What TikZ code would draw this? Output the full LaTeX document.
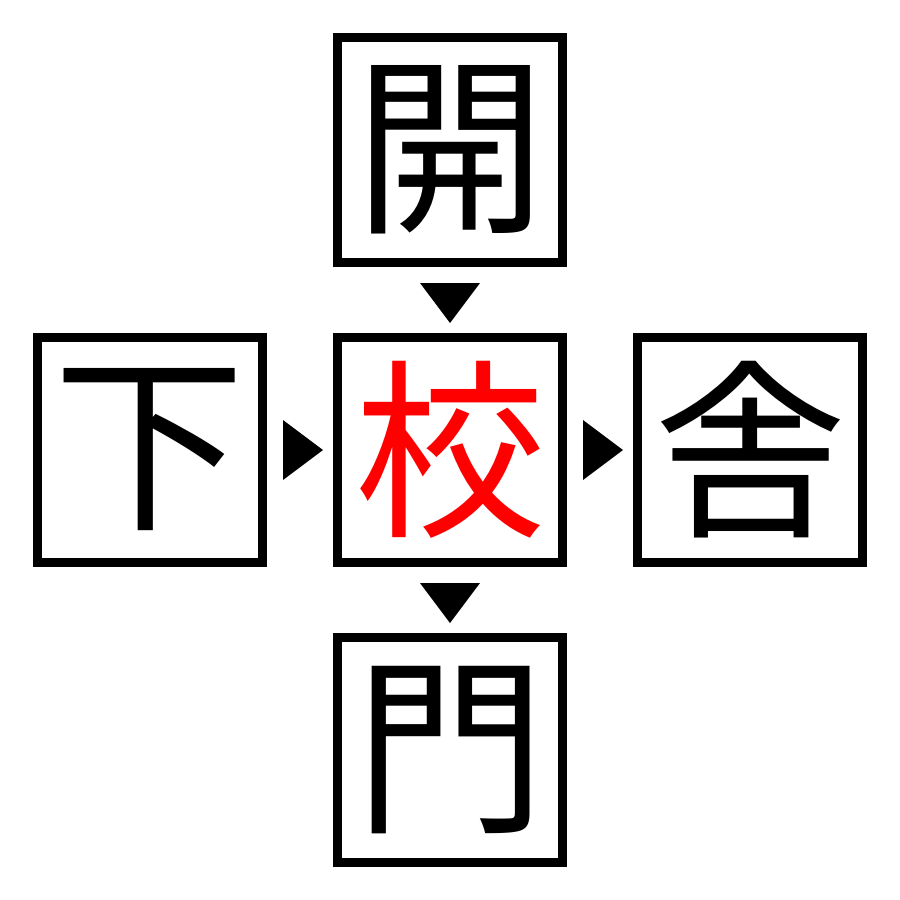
\documentclass[tikz,border=0pt]{standalone}
\usepackage{fontspec}
\newfontfamily\cjk{Noto Sans CJK JP}
\usetikzlibrary{calc}
\begin{document}
\begin{tikzpicture}[x=0.5pt,y=-0.5pt,
  charbox/.style={draw=black,line width=4.5pt,minimum width=112.5pt,minimum height=112.5pt,inner sep=0pt,font=\cjk\fontsize{96pt}{96pt}\selectfont},
  tri/.style={fill=black}]
\useasboundingbox (0,0) rectangle (900,900);
\node[charbox] (top) at (450,150) {開};
\node[charbox,text=red] (mid) at (450,450) {校};
\node[charbox] (left) at (150,450) {下};
\node[charbox] (right) at (750,450) {舎};
\node[charbox] (bot) at (450,750) {門};
% down triangle top -> mid
\fill[tri] ($(top.south)+(-30,16)$) -- ($(top.south)+(30,16)$) -- ($(top.south)+(0,56)$) -- cycle;
% down triangle mid -> bot
\fill[tri] ($(mid.south)+(-30,16)$) -- ($(mid.south)+(30,16)$) -- ($(mid.south)+(0,56)$) -- cycle;
% right triangle left -> mid
\fill[tri] ($(left.east)+(16,-30)$) -- ($(left.east)+(16,30)$) -- ($(left.east)+(56,0)$) -- cycle;
% right triangle mid -> right
\fill[tri] ($(mid.east)+(16,-30)$) -- ($(mid.east)+(16,30)$) -- ($(mid.east)+(56,0)$) -- cycle;
\end{tikzpicture}
\end{document}
